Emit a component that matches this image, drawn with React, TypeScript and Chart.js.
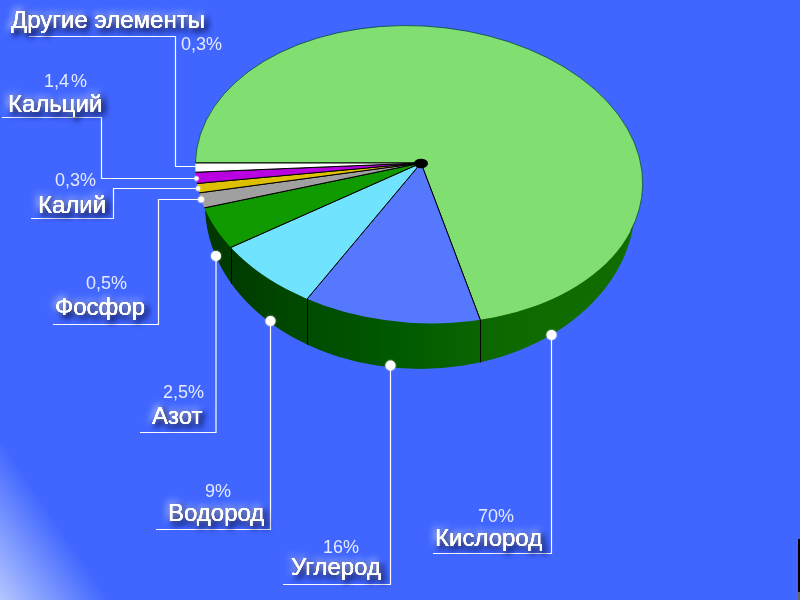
import React, { useEffect, useRef } from "react";
import { Chart, registerables } from "chart.js";

Chart.register(...registerables);

// Element names and the percentages printed next to them
const elementNames = ["Кислород", "Углерод", "Водород", "Азот", "Фосфор", "Калий", "Кальций", "Другие элементы"];
const percentLabels = ["70%", "16%", "9%", "2,5%", "0,5%", "0,3%", "1,4 %", "0,3%"];
// Slice shares as drawn in the picture (the small slices are drawn wider than their printed value)
const sliceShares = [69.25, 16.85, 7.25, 3.4, 1.12, 0.68, 0.8, 0.65];
const sliceColors = ["#80DF70", "#5578FF", "#70E4FF", "#0F9A00", "#A0A0A0", "#DDC000", "#B800E0", "#FFFFFF"];

const BG = "#4066FF";
const apex = { x: 421, y: 163 };
const top = { cx: 419, cy: 174.5, rx: 224, ry: 148.5, rot: (4 * Math.PI) / 180 };
const low = { cx: 420, cy: 205, rx: 215, ry: 164 };

// Callout layout: name position, percent position, leader path, dot radius
const callouts = [
  { name: [435, 546], pct: [478, 522], path: [[433, 553.5], [551.5, 553.5], [551.5, 335]], dot: 5 },
  { name: [291, 575], pct: [323, 553], path: [[283, 584.5], [390.5, 584.5], [390.5, 365.5]], dot: 5 },
  { name: [168, 521], pct: [205, 497], path: [[156, 529.5], [270.5, 529.5], [270.5, 321]], dot: 5 },
  { name: [152, 424], pct: [163, 398], path: [[140, 432.5], [216, 432.5], [216, 256]], dot: 5 },
  { name: [55, 315], pct: [86, 289], path: [[53, 324.5], [158.5, 324.5], [158.5, 199.5], [201, 199.5]], dot: 3 },
  { name: [38, 213], pct: [55, 186], path: [[31, 218.5], [113.5, 218.5], [113.5, 188.5], [198, 188.5]], dot: 2.2 },
  { name: [8, 112], pct: [44, 87], path: [[2, 117.5], [101.5, 117.5], [101.5, 178.5], [196.5, 178.5]], dot: 2.2 },
  { name: [11, 28], pct: [181, 50], path: [[29, 36.5], [175.5, 36.5], [175.5, 166.5], [196, 166.5]], dot: 0 },
];

// Parameter on the tilted top ellipse hit by a ray leaving the apex at a screen angle
function rayParam(angle: number) {
  const c = Math.cos(top.rot), s = Math.sin(top.rot);
  const dx = Math.cos(angle), dy = Math.sin(angle);
  const ox = ((apex.x - top.cx) * c + (apex.y - top.cy) * s) / top.rx;
  const oy = (-(apex.x - top.cx) * s + (apex.y - top.cy) * c) / top.ry;
  const ux = (dx * c + dy * s) / top.rx;
  const uy = (-dx * s + dy * c) / top.ry;
  const a = ux * ux + uy * uy, b = 2 * (ox * ux + oy * uy), k = ox * ox + oy * oy - 1;
  const t = (-b + Math.sqrt(b * b - 4 * a * k)) / (2 * a);
  return { x: apex.x + dx * t, y: apex.y + dy * t, param: Math.atan2(oy + uy * t, ox + ux * t) };
}

const piePerspective = {
  id: "piePerspective",
  beforeDraw(chart: any) {
    const { ctx } = chart;
    ctx.save();
    ctx.fillStyle = BG;
    ctx.fillRect(0, 0, 800, 600);
    const g = ctx.createLinearGradient(0, 600, 75, 549);
    g.addColorStop(0, "#B4C6FF");
    g.addColorStop(1, BG);
    ctx.fillStyle = g;
    ctx.fillRect(0, 400, 160, 200);
    ctx.fillStyle = "#000";
    ctx.fillRect(798, 539, 2, 53);
    ctx.fillStyle = "#666";
    ctx.fillRect(798, 592, 2, 8);
    ctx.restore();
  },
  beforeDatasetsDraw(chart: any) {
    const { ctx } = chart;
    const arcs = chart.getDatasetMeta(0).data;
    ctx.save();
    // pie wall
    const g = ctx.createLinearGradient(205, 0, 635, 0);
    g.addColorStop(0, "#013600");
    g.addColorStop(0.25, "#004C00");
    g.addColorStop(0.45, "#005A00");
    g.addColorStop(0.7, "#0E6900");
    g.addColorStop(1, "#126D00");
    ctx.fillStyle = g;
    ctx.beginPath();
    ctx.ellipse(low.cx, low.cy, low.rx, low.ry, 0, 0, Math.PI * 2);
    ctx.fill();
    // wall seams under the slice boundaries
    ctx.strokeStyle = "#000";
    ctx.lineWidth = 1;
    [1, 2, 3].forEach((i) => {
      const p = rayParam(arcs[i].startAngle);
      const x = Math.round(p.x) + 0.5;
      const u = (x - low.cx) / low.rx;
      ctx.beginPath();
      ctx.moveTo(x, p.y);
      ctx.lineTo(x, low.cy + low.ry * Math.sqrt(1 - u * u));
      ctx.stroke();
    });
    ctx.restore();
    // the library's slices are cut to the tilted top face
    ctx.save();
    ctx.beginPath();
    ctx.ellipse(top.cx, top.cy, top.rx, top.ry, top.rot, 0, Math.PI * 2);
    ctx.clip();
  },
  afterDatasetsDraw(chart: any) {
    const { ctx } = chart;
    ctx.restore();
    ctx.save();
    // rim of the back edge
    ctx.strokeStyle = "rgba(0,70,60,0.75)";
    ctx.lineWidth = 1;
    ctx.beginPath();
    ctx.ellipse(top.cx, top.cy, top.rx, top.ry, top.rot, rayParam(-Math.PI).param, rayParam((18 * Math.PI) / 180).param);
    ctx.stroke();
    // hub
    ctx.fillStyle = "#000";
    ctx.beginPath();
    ctx.ellipse(apex.x, apex.y + 0.5, 7, 4.8, 0, 0, Math.PI * 2);
    ctx.fill();

    callouts.forEach((c, i) => {
      ctx.strokeStyle = "#FFFFFF";
      ctx.lineWidth = 1.2;
      ctx.beginPath();
      c.path.forEach((p, j) => (j ? ctx.lineTo(p[0], p[1]) : ctx.moveTo(p[0], p[1])));
      ctx.stroke();
      if (c.dot) {
        const e = c.path[c.path.length - 1];
        ctx.save();
        ctx.shadowColor = "rgba(255,255,255,0.8)";
        ctx.shadowBlur = 2;
        ctx.fillStyle = "#FFFFFF";
        ctx.beginPath();
        ctx.arc(e[0], e[1], c.dot, 0, Math.PI * 2);
        ctx.fill();
        ctx.restore();
      }
      ctx.textBaseline = "alphabetic";
      ctx.textAlign = "left";
      // percentage
      ctx.font = '18px "Liberation Sans"';
      ctx.fillStyle = "#E4EAFF";
      (ctx as any).wordSpacing = "-3px";
      ctx.fillText(percentLabels[i], c.pct[0], c.pct[1]);
      (ctx as any).wordSpacing = "0px";
      // name with a light halo and a dark drop shadow
      ctx.font = '24px "Liberation Sans"';
      ctx.save();
      ctx.fillStyle = "#FFFFFF";
      ctx.shadowColor = "#000A48";
      ctx.shadowBlur = 6;
      ctx.shadowOffsetX = 3;
      ctx.shadowOffsetY = 3;
      ctx.fillText(elementNames[i], c.name[0], c.name[1]);
      ctx.fillText(elementNames[i], c.name[0], c.name[1]);
      ctx.shadowColor = "rgba(225,235,255,1)";
      ctx.shadowBlur = 7;
      ctx.shadowOffsetX = -2;
      ctx.shadowOffsetY = -2;
      ctx.fillText(elementNames[i], c.name[0], c.name[1]);
      ctx.restore();
      ctx.fillStyle = "#FFFFFF";
      ctx.fillText(elementNames[i], c.name[0], c.name[1]);
    });
    ctx.restore();
  },
};

export default function App() {
  const ref = useRef<HTMLCanvasElement | null>(null);
  useEffect(() => {
    document.body.style.margin = "0";
    const chart = new Chart(ref.current as HTMLCanvasElement, {
      type: "pie",
      data: {
        labels: elementNames,
        datasets: [
          {
            data: sliceShares,
            backgroundColor: sliceColors,
            borderColor: "#000000",
            borderWidth: 1,
            clip: false,
          } as any,
        ],
      },
      options: {
        animation: false,
        responsive: false,
        devicePixelRatio: 1,
        rotation: -90,
        radius: 320,
        layout: { padding: { left: 42, right: 0, top: 0, bottom: 274 } },
        plugins: { legend: { display: false }, tooltip: { enabled: false } },
      } as any,
      plugins: [piePerspective],
    });
    return () => chart.destroy();
  }, []);
  return <canvas ref={ref} width={800} height={600} style={{ display: "block", width: 800, height: 600 }} />;
}
